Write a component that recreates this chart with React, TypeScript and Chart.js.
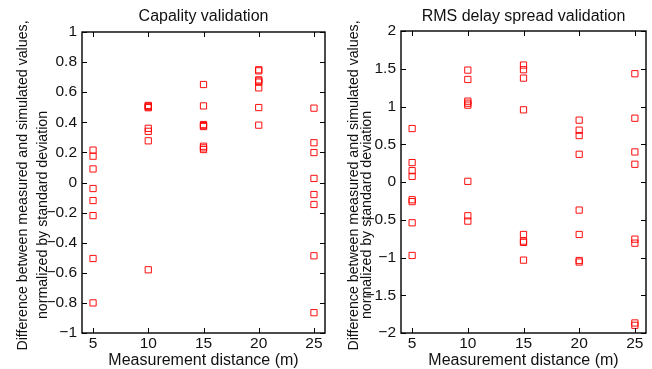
import React, { useEffect, useRef } from "react";
import { Chart, registerables } from "chart.js";

Chart.register(...registerables);

const distances = [5, 10, 15, 20, 25];

const capDiff5 = [0.215, 0.175, 0.09, -0.04, -0.12, -0.22, -0.505, -0.8];
const capDiff10 = [0.512, 0.507, 0.502, 0.497, 0.36, 0.34, 0.277, -0.58];
const capDiff15 = [0.651, 0.509, 0.385, 0.378, 0.372, 0.241, 0.23, 0.219];
const capDiff20 = [0.749, 0.742, 0.682, 0.675, 0.667, 0.629, 0.498, 0.381];
const capDiff25 = [0.494, 0.264, 0.199, 0.027, -0.08, -0.146, -0.487, -0.865];

const rmsDiff5 = [0.708, 0.257, 0.15, 0.075, -0.235, -0.26, -0.54, -0.973];
const rmsDiff10 = [1.482, 1.358, 1.071, 1.044, 1.018, 0.009, -0.447, -0.518];
const rmsDiff15 = [1.549, 1.487, 1.376, 0.956, -0.695, -0.783, -0.8, -1.035];
const rmsDiff20 = [0.819, 0.686, 0.615, 0.367, -0.372, -0.695, -1.04, -1.06];
const rmsDiff25 = [1.434, 0.845, 0.398, 0.235, -0.757, -0.81, -1.867, -1.898];

const xTicks = [5, 10, 15, 20, 25];
const capYTicks = [-1, -0.8, -0.6, -0.4, -0.2, 0, 0.2, 0.4, 0.6, 0.8, 1];
const rmsYTicks = [-2, -1.5, -1, -0.5, 0, 0.5, 1, 1.5, 2];

const capTitle = "Capality validation";
const rmsTitle = "RMS delay spread validation";
const xLabel = "Measurement distance (m)";
const yLabel1 = "Difference between measured and simulated values,";
const yLabel2 = "normalized by standard deviation";

const FONT = '"Liberation Sans", Arial, Helvetica, sans-serif';
const W = 652;
const H = 369;

function fmt(v: number) {
  const s = String(Math.round(v * 100) / 100);
  return s.replace("-", "\u2212");
}

function toPoints(groups: number[][]) {
  const pts: { x: number; y: number }[] = [];
  groups.forEach((g, i) => g.forEach((v) => pts.push({ x: distances[i], y: v })));
  return pts;
}

type Cfg = {
  title: string;
  yTicks: number[];
  ymin: number;
  ymax: number;
  padding: { left: number; right: number; top: number; bottom: number };
  yl1x: number;
  yl2x: number;
};

function makeDeco(cfg: Cfg) {
  return {
    id: "deco",
    afterDraw(chart: any) {
      const ctx = chart.ctx;
      const a = chart.chartArea;
      const xs = chart.scales.x;
      const ys = chart.scales.y;
      ctx.save();
      ctx.strokeStyle = "#000";
      ctx.lineWidth = 1.4;
      ctx.strokeRect(a.left, a.top, a.right - a.left, a.bottom - a.top);
      ctx.lineWidth = 1;
      const tl = 5;
      ctx.beginPath();
      xTicks.forEach((t) => {
        const px = Math.round(xs.getPixelForValue(t)) + 0.5;
        ctx.moveTo(px, a.bottom);
        ctx.lineTo(px, a.bottom - tl);
        ctx.moveTo(px, a.top);
        ctx.lineTo(px, a.top + tl);
      });
      cfg.yTicks.forEach((t) => {
        const py = Math.round(ys.getPixelForValue(t)) + 0.5;
        ctx.moveTo(a.left, py);
        ctx.lineTo(a.left + tl, py);
        ctx.moveTo(a.right, py);
        ctx.lineTo(a.right - tl, py);
      });
      ctx.stroke();

      ctx.fillStyle = "#111";
      ctx.font = `15.5px ${FONT}`;
      ctx.textAlign = "center";
      ctx.textBaseline = "middle";
      xTicks.forEach((t) => {
        ctx.fillText(String(t), xs.getPixelForValue(t), a.bottom + 11);
      });
      ctx.textAlign = "right";
      cfg.yTicks.forEach((t) => {
        ctx.fillText(fmt(t), a.left - 5, ys.getPixelForValue(t));
      });

      const cx = (a.left + a.right) / 2;
      ctx.textAlign = "center";
      ctx.textBaseline = "alphabetic";
      ctx.font = `16px ${FONT}`;
      ctx.fillText(cfg.title, cx, 21);
      ctx.fillText(xLabel, cx, 364.5);

      ctx.font = `14.2px ${FONT}`;
      const drawRot = (text: string, x: number, cy: number) => {
        ctx.save();
        ctx.translate(x, cy);
        ctx.rotate(-Math.PI / 2);
        ctx.fillText(text, 0, 0);
        ctx.restore();
      };
      drawRot(yLabel1, cfg.yl1x, 185.5);
      drawRot(yLabel2, cfg.yl2x, 215);
      ctx.restore();
    },
  };
}

function ScatterPanel(props: { points: { x: number; y: number }[]; cfg: Cfg }) {
  const ref = useRef<HTMLCanvasElement>(null);
  useEffect(() => {
    if (!ref.current) return;
    const { cfg } = props;
    const chart = new Chart(ref.current, {
      type: "scatter",
      data: {
        datasets: [
          {
            data: props.points,
            pointStyle: "rect",
            pointRadius: 4.4,
            pointBorderWidth: 1,
            pointBorderColor: "rgba(255,0,0,0.95)",
            pointBackgroundColor: "rgba(0,0,0,0)",
            showLine: false,
          } as any,
        ],
      },
      options: {
        responsive: false,
        animation: false,
        devicePixelRatio: 1,
        layout: { padding: cfg.padding },
        plugins: { legend: { display: false }, tooltip: { enabled: false } },
        scales: {
          x: { type: "linear", min: 4, max: 26, display: false },
          y: { type: "linear", min: cfg.ymin, max: cfg.ymax, display: false },
        },
      },
      plugins: [makeDeco(cfg)],
    });
    return () => chart.destroy();
  }, []);
  return (
    <canvas
      ref={ref}
      width={W}
      height={H}
      style={{ position: "absolute", left: 0, top: 0, width: W, height: H }}
    />
  );
}

export default function App() {
  const capPts = toPoints([capDiff5, capDiff10, capDiff15, capDiff20, capDiff25]);
  const rmsPts = toPoints([rmsDiff5, rmsDiff10, rmsDiff15, rmsDiff20, rmsDiff25]);
  const capCfg: Cfg = {
    title: capTitle,
    yTicks: capYTicks,
    ymin: -1,
    ymax: 1,
    padding: { left: 82, right: W - 325, top: 32, bottom: H - 333 },
    yl1x: 26.5,
    yl2x: 46.5,
  };
  const rmsCfg: Cfg = {
    title: rmsTitle,
    yTicks: rmsYTicks,
    ymin: -2,
    ymax: 2,
    padding: { left: 401, right: W - 646, top: 31, bottom: H - 333 },
    yl1x: 358,
    yl2x: 370.5,
  };
  return (
    <div
      style={{
        position: "fixed",
        left: 0,
        top: 0,
        width: W,
        height: H,
        background: "#fff",
        overflow: "hidden",
      }}
    >
      <ScatterPanel points={capPts} cfg={capCfg} />
      <ScatterPanel points={rmsPts} cfg={rmsCfg} />
    </div>
  );
}
